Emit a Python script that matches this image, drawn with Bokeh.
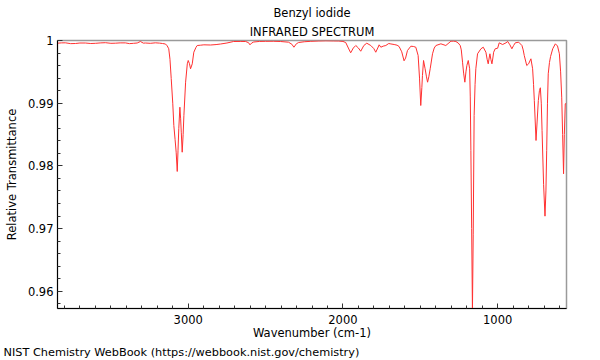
from bokeh.plotting import figure
from bokeh.models import Range1d, FixedTicker, Title, ColumnDataSource
from bokeh.embed import file_html
from bokeh.resources import INLINE

# Spectrum (wavenumber in cm-1, relative transmittance)
wavenumber = [
    3844, 3820, 3794, 3760, 3729, 3700, 3665, 3630, 3600, 3565, 3535, 3500, 3471, 3440,
    3406, 3380, 3354, 3330, 3309, 3290, 3276, 3245, 3212, 3185, 3166, 3147, 3136, 3126,
    3118, 3110, 3100, 3093, 3085, 3078, 3071, 3066, 3061, 3054, 3049, 3045, 3039, 3033,
    3028, 3017, 3006, 3000, 2992, 2985, 2974, 2964, 2950, 2942, 2920, 2899, 2856, 2820,
    2791, 2750, 2707, 2660, 2629, 2610, 2601, 2590, 2577, 2540, 2500, 2450, 2403, 2352,
    2330, 2317, 2300, 2286, 2250, 2208, 2160, 2111, 2060, 2027, 2000, 1982, 1965, 1950,
    1933, 1917, 1900, 1885, 1865, 1846, 1820, 1800, 1788, 1775, 1766, 1755, 1740, 1723,
    1704, 1690, 1669, 1650, 1637, 1620, 1605, 1595, 1583, 1561, 1545, 1529, 1514, 1505,
    1497, 1490, 1486, 1479, 1469, 1460, 1453, 1445, 1436, 1421, 1410, 1399, 1367, 1335,
    1302, 1285, 1270, 1255, 1242, 1235, 1227, 1220, 1212, 1205, 1199, 1190, 1181, 1177,
    1173, 1168, 1163, 1158, 1152, 1146, 1141, 1130, 1108, 1093, 1076, 1068, 1061, 1055,
    1050, 1044, 1037, 1031, 1026, 1016, 1000, 990, 968, 946, 935, 921, 908, 897,
    886, 864, 843, 835, 828, 812, 800, 785, 774, 768, 763, 757, 752, 745,
    737, 730, 724, 718, 713, 703, 694, 688, 683, 678, 673, 665, 658, 644,
    627, 613, 601, 593, 586, 580, 574, 569, 563, 556,
]
transmittance = [
    0.99957, 0.99962, 0.99963, 0.99950, 0.99952, 0.99960, 0.99960, 0.99952, 0.99955, 0.99962, 0.99965, 0.99955, 0.99957, 0.99962,
    0.99962, 0.99950, 0.99955, 0.99960, 0.99984, 0.99958, 0.99960, 0.99955, 0.99963, 0.99958, 0.99952, 0.99944, 0.99915, 0.99868,
    0.99700, 0.99394, 0.99000, 0.98644, 0.98420, 0.98218, 0.97911, 0.98250, 0.98596, 0.98936, 0.98750, 0.98537, 0.98218, 0.98500,
    0.98804, 0.99335, 0.99628, 0.99681, 0.99630, 0.99549, 0.99628, 0.99813, 0.99890, 0.99920, 0.99925, 0.99931, 0.99928, 0.99935,
    0.99944, 0.99960, 0.99984, 0.99985, 0.99984, 0.99965, 0.99931, 0.99960, 0.99976, 0.99985, 0.99987, 0.99988, 0.99984, 0.99973,
    0.99940, 0.99893, 0.99950, 0.99968, 0.99980, 0.99987, 0.99992, 0.99995, 0.99993, 0.99992, 0.99985, 0.99968, 0.99880, 0.99804,
    0.99880, 0.99920, 0.99880, 0.99829, 0.99920, 0.99957, 0.99920, 0.99870, 0.99813, 0.99880, 0.99931, 0.99893, 0.99910, 0.99920,
    0.99952, 0.99945, 0.99936, 0.99925, 0.99904, 0.99820, 0.99676, 0.99720, 0.99840, 0.99909, 0.99905, 0.99893, 0.99761, 0.99400,
    0.98963, 0.99250, 0.99442, 0.99681, 0.99549, 0.99420, 0.99335, 0.99420, 0.99549, 0.99788, 0.99880, 0.99920, 0.99947, 0.99920,
    0.99989, 0.99990, 0.99984, 0.99960, 0.99920, 0.99850, 0.99654, 0.99480, 0.99335, 0.99500, 0.99601, 0.99681, 0.99549, 0.99100,
    0.98246, 0.97000, 0.95690, 0.96900, 0.98804, 0.99300, 0.99549, 0.99788, 0.99868, 0.99893, 0.99813, 0.99700, 0.99628, 0.99720,
    0.99788, 0.99700, 0.99628, 0.99720, 0.99813, 0.99868, 0.99877, 0.99963, 0.99936, 0.99963, 0.99984, 0.99931, 0.99868, 0.99920,
    0.99963, 0.99973, 0.99920, 0.99850, 0.99761, 0.99601, 0.99628, 0.99708, 0.99549, 0.99300, 0.99043, 0.98700, 0.98405, 0.98700,
    0.99043, 0.99200, 0.99246, 0.99000, 0.98565, 0.97700, 0.97198, 0.97600, 0.98246, 0.99000, 0.99469, 0.99650, 0.99745, 0.99868,
    0.99947, 0.99912, 0.99788, 0.99500, 0.99096, 0.98500, 0.97874, 0.98500, 0.98990, 0.99000,
]

x_major_ticks = [1000, 2000, 3000]
x_minor_ticks = list(range(600, 3900, 100))
y_major_ticks = [0.96, 0.97, 0.98, 0.99, 1.0]
y_minor_ticks = [0.958, 0.962, 0.964, 0.966, 0.968, 0.972, 0.974, 0.976, 0.978,
                 0.982, 0.984, 0.986, 0.988, 0.992, 0.994, 0.996, 0.998]

title_text = "Benzyl iodide"
subtitle_text = "INFRARED SPECTRUM"
x_label = "Wavenumber (cm-1)"
y_label = "Relative Transmittance"
footer_text = "NIST Chemistry WebBook (https://webbook.nist.gov/chemistry)"

FONT = "DejaVu Sans"
FS = "11.5px"

src = ColumnDataSource(data=dict(wn=wavenumber, t=transmittance))

p = figure(width=600, height=360,
           x_range=Range1d(3845, 555), y_range=Range1d(0.95725, 1.0),
           output_backend="svg", toolbar_location=None,
           min_border_left=57, min_border_right=34,
           min_border_top=40, min_border_bottom=52)
p.title.visible = False
p.background_fill_color = "white"
p.border_fill_color = "white"
p.outline_line_color = "#9a9a9a"
p.outline_line_width = 1.5
p.xgrid.visible = False
p.ygrid.visible = False

p.line("wn", "t", source=src, line_color="#ff3030", line_width=1)

p.xaxis.ticker = FixedTicker(ticks=x_major_ticks, minor_ticks=x_minor_ticks)
p.yaxis.ticker = FixedTicker(ticks=y_major_ticks, minor_ticks=y_minor_ticks)
p.yaxis.major_label_overrides = {1: "1"}

for ax in (p.xaxis[0], p.yaxis[0]):
    ax.major_tick_in = 5
    ax.major_tick_out = 0
    ax.minor_tick_in = 3
    ax.minor_tick_out = 0
    ax.axis_line_color = "black"
    ax.major_tick_line_color = "#333333"
    ax.minor_tick_line_color = "#333333"
    ax.major_label_text_font = FONT
    ax.major_label_text_font_size = FS
    ax.major_label_text_color = "black"
    ax.axis_label_text_font = FONT
    ax.axis_label_text_font_size = FS
    ax.axis_label_text_font_style = "normal"
    ax.axis_label_text_color = "black"

p.xaxis.axis_label = x_label
p.yaxis.axis_label = y_label
p.xaxis.major_label_standoff = 6
p.xaxis.axis_label_standoff = -1
p.yaxis.major_label_standoff = 4
p.yaxis.axis_label_standoff = 6

tstyle = dict(text_font=FONT, text_font_style="normal", text_color="black")
p.add_layout(Title(text=subtitle_text, align="center", standoff=4,
                   text_font_size=FS, **tstyle), "above")
p.add_layout(Title(text=title_text, align="center", standoff=1,
                   text_font_size=FS, **tstyle), "above")
p.add_layout(Title(text=footer_text, align="left", offset=-54, standoff=2,
                   text_font_size="11.3px", **tstyle), "below")

with open("out.html", "w") as f:
    f.write(file_html(p, INLINE))
